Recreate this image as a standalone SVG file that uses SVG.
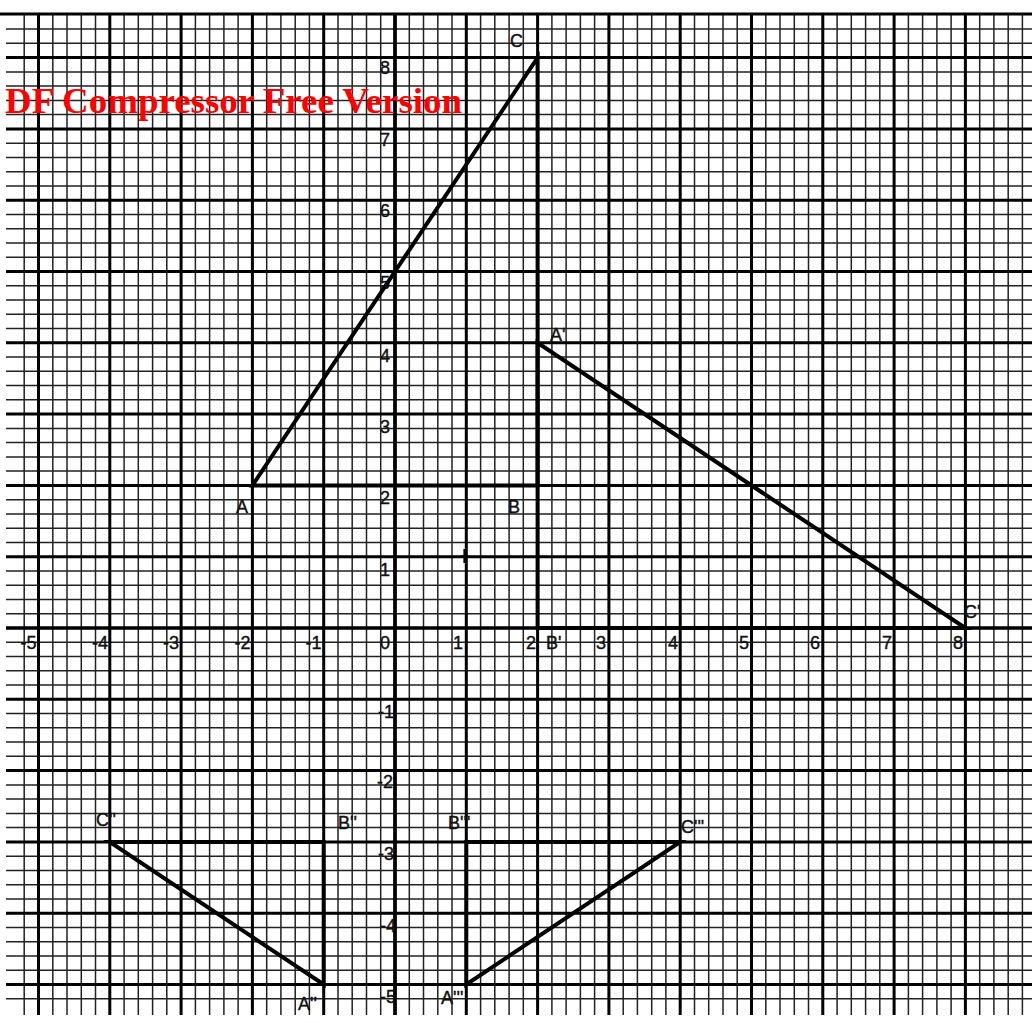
<svg xmlns="http://www.w3.org/2000/svg" width="1032" height="1023" viewBox="0 0 1032 1023">
<style>
.minor{stroke:#222;stroke-width:1.5;fill:none}
.major{stroke:#000;stroke-width:3;fill:none}
.edge{stroke:#000;stroke-width:4;fill:none;stroke-linejoin:miter;stroke-linecap:round}
.lbl{font-family:"Liberation Sans",Arial,sans-serif;font-size:18px;fill:#111;stroke:#111;stroke-width:0.4}
.ax{font-family:"Liberation Sans",Arial,sans-serif;font-size:18px;fill:#111;stroke:#111;stroke-width:0.4;text-anchor:end}
.wm{font-family:"Liberation Serif","Times New Roman",serif;font-weight:bold;font-size:36px;fill:#ff0000}
</style>
<rect x="0" y="0" width="1032" height="1023" fill="#fff"/>
<g id="grid">
<path class="minor" d="M24.2 14V1015M52.8 14V1015M67 14V1015M81.3 14V1015M95.5 14V1015M124.1 14V1015M138.3 14V1015M152.6 14V1015M166.8 14V1015M195.4 14V1015M209.6 14V1015M223.9 14V1015M238.1 14V1015M266.7 14V1015M280.9 14V1015M295.2 14V1015M309.4 14V1015M338 14V1015M352.2 14V1015M366.5 14V1015M380.7 14V1015M409.3 14V1015M423.5 14V1015M437.8 14V1015M452 14V1015M480.6 14V1015M494.8 14V1015M509.1 14V1015M523.3 14V1015M551.9 14V1015M566.1 14V1015M580.4 14V1015M594.6 14V1015M623.2 14V1015M637.4 14V1015M651.7 14V1015M665.9 14V1015M694.5 14V1015M708.7 14V1015M723 14V1015M737.2 14V1015M765.8 14V1015M780 14V1015M794.3 14V1015M808.5 14V1015M837.1 14V1015M851.3 14V1015M865.6 14V1015M879.8 14V1015M908.4 14V1015M922.6 14V1015M936.9 14V1015M951.1 14V1015M979.7 14V1015M993.9 14V1015M1008.2 14V1015M1022.4 14V1015"/>
<path class="minor" d="M6 29.1H1032M6 43.3H1032M6 71.9H1032M6 86.1H1032M6 100.4H1032M6 114.6H1032M6 143.2H1032M6 157.4H1032M6 171.7H1032M6 185.9H1032M6 214.5H1032M6 228.7H1032M6 243H1032M6 257.2H1032M6 285.8H1032M6 300H1032M6 314.3H1032M6 328.5H1032M6 357.1H1032M6 371.3H1032M6 385.6H1032M6 399.8H1032M6 428.4H1032M6 442.6H1032M6 456.9H1032M6 471.1H1032M6 499.7H1032M6 513.9H1032M6 528.2H1032M6 542.4H1032M6 571H1032M6 585.2H1032M6 599.5H1032M6 613.7H1032M6 642.3H1032M6 656.5H1032M6 670.8H1032M6 685H1032M6 713.6H1032M6 727.8H1032M6 742.1H1032M6 756.3H1032M6 784.9H1032M6 799.1H1032M6 813.4H1032M6 827.6H1032M6 856.2H1032M6 870.4H1032M6 884.7H1032M6 898.9H1032M6 927.5H1032M6 941.7H1032M6 956H1032M6 970.2H1032M6 998.8H1032"/>
<path class="major" d="M38.5 14V1015M109.8 14V1015M181.1 14V1015M252.4 14V1015M323.7 14V1015M395 14V1015M466.3 14V1015M537.6 14V1015M608.9 14V1015M680.2 14V1015M751.5 14V1015M822.8 14V1015M894.1 14V1015M965.4 14V1015"/>
<path class="major" d="M6 57.6H1032M6 128.9H1032M6 200.2H1032M6 271.5H1032M6 342.8H1032M6 414.1H1032M6 485.4H1032M6 556.7H1032M6 699.3H1032M6 770.6H1032M6 841.9H1032M6 913.2H1032M6 984.5H1032"/>
<path class="major" d="M0 14H1032"/>
<path class="major" style="stroke-width:3.5" d="M6 628H1032M395 14V1015"/>
<path d="M464.5 549V563M460 556.5H469" stroke="#000" stroke-width="2.2"/>
</g>
<g id="axis-labels">
<text class="ax" x="36.5" y="649">-5</text>
<text class="ax" x="108" y="649">-4</text>
<text class="ax" x="179" y="649">-3</text>
<text class="ax" x="250.5" y="649">-2</text>
<text class="ax" x="321.5" y="649">-1</text>
<text class="ax" x="390" y="649">0</text>
<text class="ax" x="463" y="649">1</text>
<text class="ax" x="536" y="649">2</text>
<text class="ax" x="606" y="649">3</text>
<text class="ax" x="678" y="649">4</text>
<text class="ax" x="749" y="649">5</text>
<text class="ax" x="820" y="649">6</text>
<text class="ax" x="892" y="649">7</text>
<text class="ax" x="963" y="649">8</text>
<text class="ax" x="390" y="74">8</text>
<text class="ax" x="390" y="146">7</text>
<text class="ax" x="390" y="217">6</text>
<text class="ax" x="390" y="289">5</text>
<text class="ax" x="390" y="362">4</text>
<text class="ax" x="390" y="433">3</text>
<text class="ax" x="390" y="504">2</text>
<text class="ax" x="390" y="576">1</text>
<text class="ax" x="394" y="718">-1</text>
<text class="ax" x="393" y="788">-2</text>
<text class="ax" x="394" y="860">-3</text>
<text class="ax" x="396" y="932">-4</text>
<text class="ax" x="396" y="1003">-5</text>
</g>
<g id="connectors">
<polygon class="edge" points="252.4,485.4 537.6,485.4 537.6,57.6"/>
<polygon class="edge" points="537.6,342.8 537.6,628 965.4,628"/>
<polygon class="edge" points="109.8,841.9 323.7,841.9 323.7,984.5"/>
<polygon class="edge" points="466.3,841.9 680.2,841.9 466.3,984.5"/>
</g>
<g id="triangle-ABC">
<text class="lbl" x="510" y="47">C</text>
<text class="lbl" x="236" y="513">A</text>
<text class="lbl" x="508" y="513">B</text>
</g>
<g id="triangle-A1B1C1">
<text class="lbl" x="550" y="341">A'</text>
<text class="lbl" x="546" y="649">B'</text>
<text class="lbl" x="964" y="618">C'</text>
</g>
<g id="triangle-A2B2C2">
<text class="lbl" x="96" y="826">C''</text>
<text class="lbl" x="338" y="829">B''</text>
<text class="lbl" x="298" y="1010">A''</text>
</g>
<g id="triangle-A3B3C3">
<text class="lbl" x="448" y="829">B'''</text>
<text class="lbl" x="681" y="833">C'''</text>
<text class="lbl" x="441" y="1004">A'''</text>
</g>
<g id="watermark">
<text class="wm" x="5" y="113" textLength="457" lengthAdjust="spacingAndGlyphs">DF Compressor Free Version</text>
</g>
</svg>
